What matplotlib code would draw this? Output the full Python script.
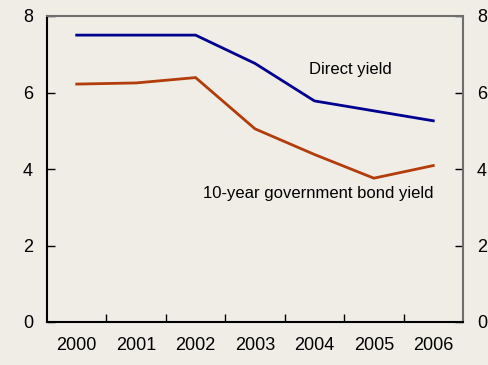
import matplotlib
matplotlib.use("Agg")
import matplotlib.pyplot as plt

years = ["2000", "2001", "2002", "2003", "2004", "2005", "2006"]
direct_yield = [7.5, 7.5, 7.5, 6.76, 5.78, 5.52, 5.26]
bond_yield = [6.22, 6.25, 6.39, 5.05, 4.38, 3.76, 4.09]
yticks = [0, 2, 4, 6, 8]

plt.rcParams["font.family"] = ["Liberation Sans", "DejaVu Sans"]
fs = 13

bg = "#f0ede6"
fig = plt.figure(figsize=(4.88, 3.65), dpi=100, facecolor=bg)
ax = fig.add_axes([47/488, 1 - 322/365, (463-47)/488, (322-16)/365])
ax.set_facecolor(bg)

x = list(range(len(years)))
ax.plot(x, direct_yield, color="#000090", lw=2.0, solid_joinstyle="miter")
ax.plot(x, bond_yield, color="#b23c0a", lw=2.0, solid_joinstyle="miter")

ax.set_xlim(-0.5, len(years) - 0.5)
ax.set_ylim(0, 8)
ax.set_yticks(yticks)
ax.set_yticklabels([str(v) for v in yticks], fontsize=fs)
ax.set_xticks(x)
ax.set_xticklabels(years, fontsize=fs)
ax.tick_params(axis="x", which="major", length=0, pad=11)
ax.set_xticks([i + 0.5 for i in x[:-1]], minor=True)
ax.tick_params(axis="x", which="minor", direction="in", length=6, width=1, color="black")
ax.tick_params(axis="y", direction="in", length=6, width=1, pad=12,
               left=True, right=True, labelleft=True, labelright=True)
for lbl in ax.get_yticklabels(which="both"):
    pass
ax.yaxis.set_tick_params(which="major", labelright=True)
for t in ax.yaxis.get_major_ticks():
    t.label2.set_x(1.0)
ax.tick_params(axis="y", which="major", pad=10)

for s in ["left", "bottom"]:
    ax.spines[s].set_color("black")
    ax.spines[s].set_linewidth(1.5)
for s in ["top", "right"]:
    ax.spines[s].set_color("#6e6e6e")
    ax.spines[s].set_linewidth(1.5)

ax.text(4.6, 6.61, "Direct yield", fontsize=12, ha="center", va="center")
ax.text(4.07, 3.37, "10-year government bond yield", fontsize=12, ha="center", va="center")

fig.text(15/488, 1 - 4/365, "2000 = 2005", fontsize=fs, ha="left", va="bottom")

fig.savefig("out.png", dpi=100, facecolor=bg)
